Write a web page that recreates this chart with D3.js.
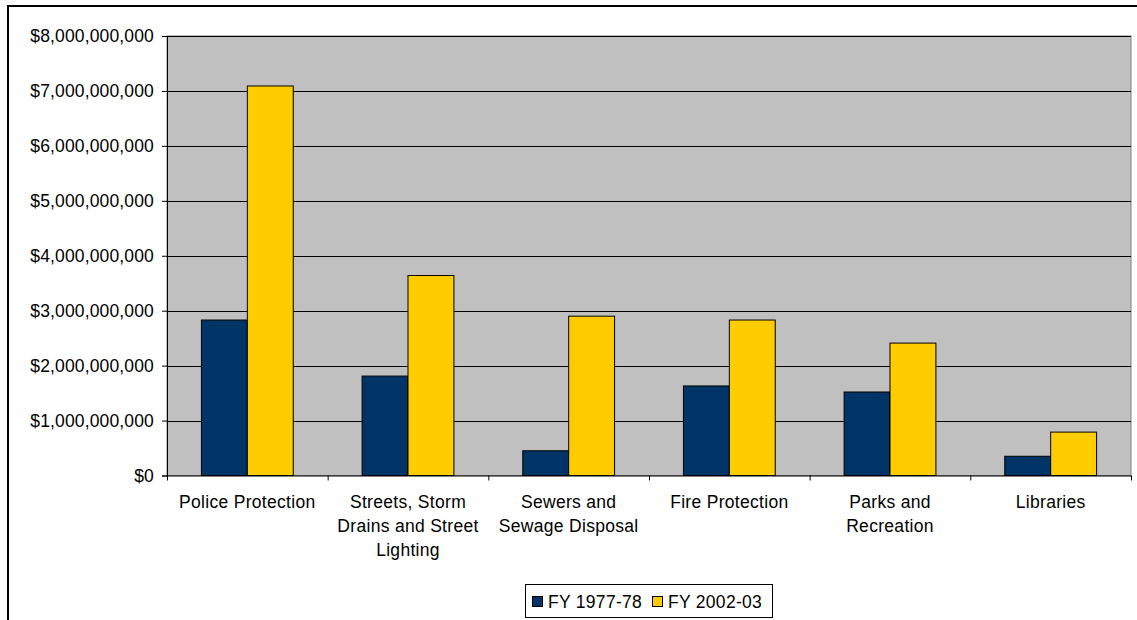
<!DOCTYPE html>
<html><head><meta charset="utf-8">
<script src="https://cdn.jsdelivr.net/npm/d3@7"></script>
<style>html,body{margin:0;padding:0;background:#fff;}svg{display:block;font-family:"Liberation Sans",Arial,sans-serif;}</style>
</head><body><svg id="c" width="1137" height="620"></svg>
<script>
const categories = ["Police Protection", "Streets, Storm\nDrains and Street\nLighting", "Sewers and\nSewage Disposal", "Fire Protection", "Parks and\nRecreation", "Libraries"];
const seriesNames = ["FY 1977-78", "FY 2002-03"];
const fy1977 = [2.83e9, 1.81e9, 0.45e9, 1.63e9, 1.52e9, 0.35e9];
const fy2002 = [7.09e9, 3.64e9, 2.90e9, 2.83e9, 2.41e9, 0.79e9];
const yTicks = [0, 1e9, 2e9, 3e9, 4e9, 5e9, 6e9, 7e9, 8e9];
const colors = ["#003366", "#FFCC00"];

const FS = 17.5, LS = 0.3;
const svg = d3.select("#c");
svg.append("rect").attr("x", 8).attr("y", 6).attr("width", 1140).attr("height", 630)
  .attr("fill", "none").attr("stroke", "#000").attr("stroke-width", 2);

const L = 167, R = 1131, T = 36, B = 475.5;
const x0 = d3.scaleBand().domain(d3.range(categories.length)).range([L, R]);
const y = d3.scaleLinear().domain([0, 8e9]).range([B, T]);
const bw = x0.bandwidth() / 3.5;

svg.append("rect").attr("x", L).attr("y", T).attr("width", R - L).attr("height", B - T)
  .attr("fill", "#C0C0C0").attr("stroke", "#808080").attr("stroke-width", 1);

svg.append("g").selectAll("line").data(yTicks.filter(d => d > 0)).join("line")
  .attr("x1", L).attr("x2", R).attr("y1", d => Math.round(y(d)) + 0.5).attr("y2", d => Math.round(y(d)) + 0.5)
  .attr("stroke", "#000").attr("stroke-width", 1);

[fy1977, fy2002].forEach((vals, si) => {
  svg.append("g").selectAll("rect").data(vals).join("rect")
    .attr("x", (d, i) => x0(i) + (x0.bandwidth() - 2 * bw) / 2 + si * bw)
    .attr("y", d => y(d))
    .attr("width", bw)
    .attr("height", d => B - y(d))
    .attr("fill", colors[si]).attr("stroke", "#000").attr("stroke-width", 1);
});

const yAxis = d3.axisLeft(y).tickValues(yTicks).tickSize(5).tickPadding(8)
  .tickFormat(d => "$" + d3.format(",")(d));
const gy = svg.append("g").attr("transform", `translate(${L},0)`).call(yAxis);
gy.select(".domain").attr("stroke", "#000");
gy.selectAll(".tick line").attr("stroke", "#000");
gy.selectAll("text").attr("font-size", FS).attr("letter-spacing", 0.15).attr("fill", "#000")
  .attr("font-family", "Liberation Sans, Arial, sans-serif");

const xAxis = d3.axisBottom(d3.scaleLinear().domain([0, categories.length]).range([L, R]))
  .tickValues(d3.range(categories.length + 1)).tickSize(5).tickFormat("");
const gx = svg.append("g").attr("transform", `translate(0,${B})`).call(xAxis);
gx.select(".domain").attr("stroke", "#000").attr("d", `M${L},0.5H${R}`);
gx.selectAll(".tick line").attr("stroke", "#000");

categories.forEach((c, i) => {
  const t = svg.append("text").attr("text-anchor", "middle").attr("font-size", FS)
    .attr("letter-spacing", LS).attr("fill", "#000");
  c.split("\n").forEach((ln, j) => {
    t.append("tspan").attr("x", x0(i) + x0.bandwidth() / 2).attr("y", 508 + j * 24).text(ln);
  });
});

const lg = svg.append("g");
lg.append("rect").attr("x", 525.5).attr("y", 584.5).attr("width", 247).attr("height", 33)
  .attr("fill", "#fff").attr("stroke", "#000").attr("stroke-width", 1);
const lx = [532, 652];
seriesNames.forEach((n, i) => {
  lg.append("rect").attr("x", lx[i] + 0.5).attr("y", 596.5).attr("width", 10).attr("height", 10)
    .attr("fill", colors[i]).attr("stroke", "#000").attr("stroke-width", 1);
  lg.append("text").attr("x", lx[i] + 16).attr("y", 608).attr("font-size", FS)
    .attr("letter-spacing", LS).attr("fill", "#000").text(n);
});
</script></body></html>
